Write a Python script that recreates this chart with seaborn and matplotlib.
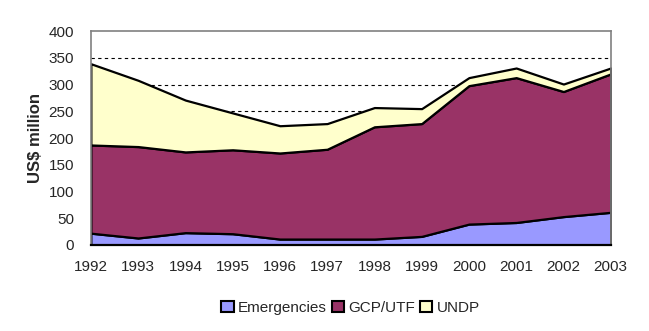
import numpy as np
import pandas as pd
import matplotlib
matplotlib.use('Agg')
import matplotlib.pyplot as plt
import seaborn as sns
from matplotlib.patches import Patch

# Data (US$ million)
years = [1992, 1993, 1994, 1995, 1996, 1997, 1998, 1999, 2000, 2001, 2002, 2003]
emergencies = [22, 13, 23, 21, 11, 11, 11, 16, 39, 42, 53, 61]
gcp_utf = [165, 171, 151, 157, 161, 168, 210, 211, 259, 271, 234, 259]
undp = [152, 124, 97, 69, 51, 48, 36, 28, 15, 18, 14, 11]

series_names = ['Emergencies', 'GCP/UTF', 'UNDP']
colors = ['#9999FF', '#993366', '#FFFFCC']

df = pd.DataFrame({'Year': years, 'Emergencies': emergencies,
                   'GCP/UTF': gcp_utf, 'UNDP': undp}).set_index('Year')

sns.set_style('white')
plt.rcParams['font.family'] = ['Liberation Sans', 'DejaVu Sans']

fig = plt.figure(figsize=(6.49, 3.31), dpi=100)
ax = fig.add_axes([0.140, 0.260, 0.801, 0.646])

# dashed gridlines behind the areas
for yv in range(50, 400, 50):
    ax.axhline(yv, color='black', linestyle=(0, (3, 3)), linewidth=0.8, zorder=0)

# stacked areas
base = np.zeros(len(years))
for name, col in zip(series_names, colors):
    top = base + df[name].values
    ax.fill_between(df.index, base, top, facecolor=col, edgecolor='black',
                    linewidth=1.6, zorder=2)
    base = top

ax.set_xlim(1992, 2003)
ax.set_ylim(0, 400)
ax.set_xticks(years)
ax.set_yticks(range(0, 401, 50))
ax.tick_params(axis='x', length=4, width=1, color='black', direction='out',
               labelsize=11, pad=7)
ax.tick_params(axis='y', length=0, labelsize=11, pad=12)
ax.set_ylabel('US$ million', fontsize=12, fontweight='bold', labelpad=4)

for side in ['top', 'left', 'right']:
    ax.spines[side].set_color('#808080')
    ax.spines[side].set_linewidth(1.2)
ax.spines['bottom'].set_color('black')
ax.spines['bottom'].set_linewidth(1.6)
ax.spines['bottom'].set_zorder(3)

handles = [Patch(facecolor=c, edgecolor='black', linewidth=1.5, label=n)
           for n, c in zip(series_names, colors)]
fig.legend(handles=handles, loc='center', bbox_to_anchor=(0.54, 0.07), ncol=3,
           frameon=False, fontsize=11, handlelength=0.8, handleheight=0.8,
           handletextpad=0.3, columnspacing=0.3)

fig.savefig('out.png', dpi=100)
